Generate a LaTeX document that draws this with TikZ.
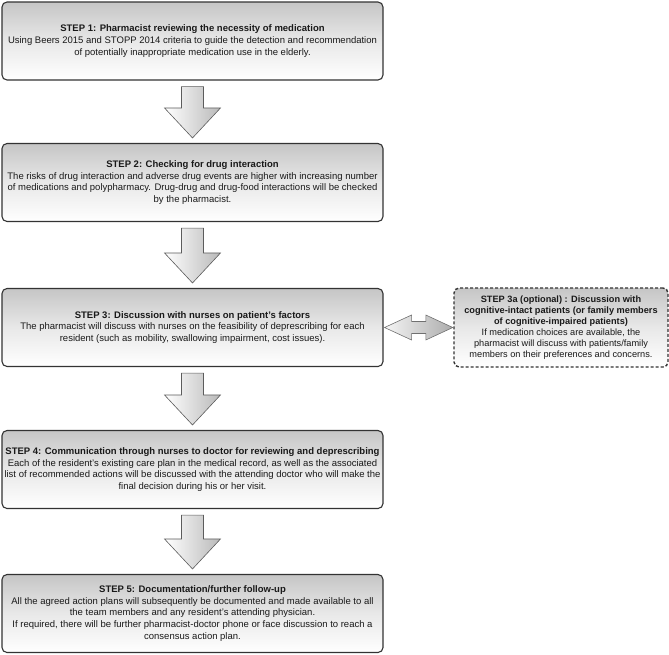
\documentclass[tikz,border=0pt]{standalone}
\usepackage{fontspec}
\setmainfont{Liberation Sans}
\usetikzlibrary{calc}
\definecolor{edge}{HTML}{333333}
\tikzset{
  stepbox/.style={draw=edge, line width=1.1pt, rounded corners=5pt,
    top color=gray!45, bottom color=white, middle color=gray!18,
    minimum width=381pt, minimum height=78pt, align=center,
    inner sep=0pt, font=\fontsize{9.5pt}{11.6pt}\selectfont, text=black!90},
  optbox/.style={stepbox, dashed, dash pattern=on 3pt off 2pt, line width=1.4pt,
    minimum width=214pt, minimum height=79pt, font=\fontsize{9.2pt}{11.1pt}\selectfont},
  blockarrow/.style={draw=edge!80, line width=0.6pt, left color=white, right color=gray!55},
  dblarrow/.style={draw=edge!70, line width=0.6pt, left color=gray!8, right color=gray!65},
}
\newcommand\blockdown[2]{%
  \path[blockarrow] let \p1=($(#1.south)+(0,-6pt)$), \p2=($(#2.north)+(0,5pt)$) in
    (\x1-11pt,\y1) -- (\x1+11pt,\y1) -- (\x1+11pt,\y2+30pt) -- (\x1+28pt,\y2+30pt)
    -- (\x1,\y2) -- (\x1-28pt,\y2+30pt) -- (\x1-11pt,\y2+30pt) -- cycle;}
\begin{document}
\begin{tikzpicture}[x=1pt,y=-1pt]
\useasboundingbox (0,0) rectangle (669,654);
\node[stepbox] (b1) at (192.5,41) {\textbf{STEP 1: Pharmacist reviewing the necessity of medication}\\
Using Beers 2015 and STOPP 2014 criteria to guide the detection and recommendation\\
of potentially inappropriate medication use in the elderly.};
\node[stepbox] (b2) at (192.5,182.5) {\textbf{STEP 2: Checking for drug interaction}\\
The risks of drug interaction and adverse drug events are higher with increasing number\\
of medications and polypharmacy. Drug-drug and drug-food interactions will be checked\\
by the pharmacist.};
\node[stepbox] (b3) at (192.5,327.5) {\textbf{STEP 3: Discussion with nurses on patient's factors}\\
The pharmacist will discuss with nurses on the feasibility of deprescribing for each\\
resident (such as mobility, swallowing impairment, cost issues).};
\node[stepbox] (b4) at (192.5,469.5) {\textbf{STEP 4: Communication through nurses to doctor for reviewing and deprescribing}\\
Each of the resident's existing care plan in the medical record, as well as the associated\\
list of recommended actions will be discussed with the attending doctor who will make the\\
final decision during his or her visit.};
\node[stepbox] (b5) at (192.5,613.5) {\textbf{STEP 5: Documentation/further follow-up}\\
All the agreed action plans will subsequently be documented and made available to all\\
the team members and any resident's attending physician.\\
If required, there will be further pharmacist-doctor phone or face discussion to reach a\\
consensus action plan.};
\node[optbox] (b3a) at (561,327.5) {\textbf{STEP 3a (optional) : Discussion with}\\
\textbf{cognitive-intact patients (or family members}\\
\textbf{of cognitive-impaired patients)}\\
If medication choices are available, the\\
pharmacist will discuss with patients/family\\
members on their preferences and concerns.};
\blockdown{b1}{b2}
\blockdown{b2}{b3}
\blockdown{b3}{b4}
\blockdown{b4}{b5}
\path[dblarrow] let \p1=($(b3.east)+(1pt,0)$), \p2=($(b3a.west)+(-0.5pt,0)$) in
  (\x1,\y1) -- (\x1+27pt,\y1+12.5pt) -- (\x1+27pt,\y1+6pt) -- (\x2-27pt,\y1+6pt)
  -- (\x2-27pt,\y1+12.5pt) -- (\x2,\y1) -- (\x2-27pt,\y1-12.5pt) -- (\x2-27pt,\y1-6pt)
  -- (\x1+27pt,\y1-6pt) -- (\x1+27pt,\y1-12.5pt) -- cycle;
\end{tikzpicture}
\end{document}
